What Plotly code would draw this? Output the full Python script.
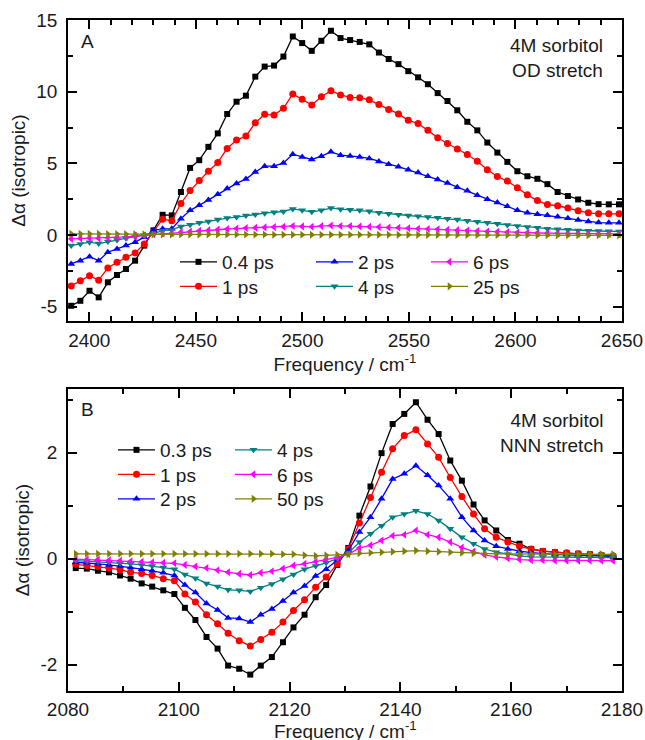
import plotly.graph_objects as go

# ---------------- Panel A data (OD stretch) ----------------
freq_A = [2391.5, 2395.8, 2400.1, 2404.4, 2408.7, 2413.0, 2417.2, 2421.5, 2425.8, 2430.1,
          2434.4, 2438.7, 2443.0, 2447.3, 2451.6, 2455.9, 2460.3, 2464.7, 2469.1, 2473.5,
          2477.9, 2482.3, 2486.7, 2491.1, 2495.5, 2499.9, 2504.4, 2508.9, 2513.4, 2517.9,
          2522.4, 2526.9, 2531.4, 2535.9, 2540.5, 2545.1, 2549.7, 2554.3, 2558.9, 2563.5,
          2568.1, 2572.7, 2577.4, 2582.1, 2586.8, 2591.5, 2596.2, 2600.9, 2605.6, 2610.3,
          2615.0, 2619.8, 2624.6, 2629.4, 2634.2, 2639.0, 2643.8, 2648.6]
A_04ps = [-4.94, -4.59, -3.89, -4.35, -3.30, -2.79, -2.37, -1.79, -0.74, 0.32,
          1.41, 1.37, 3.00, 4.68, 5.22, 6.15, 7.09, 8.44, 9.30, 9.72,
          11.05, 11.75, 11.82, 12.45, 13.85, 13.39, 12.85, 13.55, 14.25, 13.74,
          13.60, 13.47, 13.30, 12.73, 12.28, 11.92, 11.43, 11.00, 10.52, 9.90,
          9.35, 8.70, 7.90, 7.30, 6.45, 5.75, 5.10, 4.45, 4.10, 3.92,
          3.55, 3.00, 2.72, 2.48, 2.25, 2.15, 2.14, 2.14]
A_1ps = [-3.55, -3.20, -2.84, -3.15, -2.30, -1.90, -1.55, -1.25, -0.62, 0.20,
         1.10, 1.00, 2.20, 3.10, 3.80, 4.45, 5.06, 6.04, 6.62, 6.90,
         7.83, 8.42, 8.37, 8.84, 9.84, 9.47, 9.07, 9.65, 10.07, 9.77,
         9.60, 9.58, 9.43, 9.10, 8.75, 8.45, 8.00, 7.78, 7.30, 6.78,
         6.38, 6.00, 5.62, 5.15, 4.55, 4.08, 3.76, 3.30, 2.80, 2.40,
         2.12, 2.04, 1.88, 1.70, 1.55, 1.48, 1.48, 1.48]
A_2ps = [-2.02, -1.79, -1.51, -1.79, -1.20, -0.97, -0.74, -0.50, -0.15, 0.32,
         0.43, 0.43, 1.13, 1.72, 2.07, 2.45, 2.85, 3.25, 3.60, 3.90,
         4.40, 4.80, 4.80, 5.03, 5.64, 5.45, 5.27, 5.50, 5.80, 5.57,
         5.52, 5.45, 5.34, 5.12, 4.94, 4.77, 4.55, 4.36, 4.10, 3.87,
         3.62, 3.33, 3.08, 2.78, 2.50, 2.26, 2.00, 1.72, 1.55, 1.45,
         1.37, 1.27, 1.16, 1.05, 0.95, 0.87, 0.85, 0.85]
A_4ps = [-0.74, -0.62, -0.50, -0.60, -0.45, -0.35, -0.22, -0.12, -0.02, 0.10,
         0.30, 0.35, 0.60, 0.72, 0.85, 0.95, 1.08, 1.18, 1.25, 1.36,
         1.43, 1.52, 1.58, 1.64, 1.82, 1.72, 1.62, 1.72, 1.88, 1.80,
         1.76, 1.72, 1.65, 1.56, 1.48, 1.42, 1.36, 1.30, 1.25, 1.20,
         1.14, 1.08, 1.00, 0.92, 0.85, 0.78, 0.70, 0.62, 0.55, 0.50,
         0.44, 0.40, 0.36, 0.32, 0.30, 0.28, 0.26, 0.25]
A_6ps = [-0.27, -0.25, -0.22, -0.24, -0.20, -0.17, -0.13, -0.08, -0.03, 0.03,
         0.10, 0.13, 0.20, 0.25, 0.30, 0.34, 0.38, 0.42, 0.45, 0.48,
         0.50, 0.53, 0.55, 0.57, 0.63, 0.60, 0.58, 0.62, 0.66, 0.63,
         0.62, 0.60, 0.58, 0.55, 0.52, 0.50, 0.47, 0.44, 0.42, 0.40,
         0.37, 0.34, 0.31, 0.28, 0.25, 0.22, 0.20, 0.18, 0.16, 0.14,
         0.13, 0.12, 0.11, 0.10, 0.09, 0.08, 0.08, 0.08]
A_25ps = [0.08, 0.08, 0.08, 0.08, 0.07, 0.07, 0.06, 0.06, 0.05, 0.04,
          0.04, 0.03, 0.03, 0.03, 0.03, 0.03, 0.03, 0.03, 0.03, 0.03,
          0.03, 0.03, 0.02, 0.02, 0.02, 0.02, 0.02, 0.02, 0.02, 0.02,
          0.02, 0.02, 0.02, 0.02, 0.02, 0.01, 0.01, 0.01, 0.01, 0.01,
          0.01, 0.01, 0.00, 0.00, 0.00, 0.00, 0.00, 0.00, 0.00, -0.01,
          -0.01, -0.01, -0.01, -0.02, -0.02, -0.02, -0.02, -0.03]
labels_A = ["0.4 ps", "1 ps", "2 ps", "4 ps", "6 ps", "25 ps"]

# ---------------- Panel B data (NNN stretch) ----------------
freq_B = [2081.4, 2083.4, 2085.4, 2087.4, 2089.4, 2091.3, 2093.3, 2095.2, 2097.2, 2099.2,
          2101.1, 2103.0, 2105.0, 2107.0, 2108.9, 2110.9, 2112.9, 2114.8, 2116.8, 2118.8,
          2120.7, 2122.7, 2124.7, 2126.6, 2128.6, 2130.6, 2132.6, 2134.6, 2136.6, 2138.6,
          2140.7, 2142.8, 2144.9, 2146.9, 2149.0, 2151.1, 2153.2, 2155.2, 2157.3, 2159.4,
          2161.5, 2163.6, 2165.7, 2167.9, 2170.0, 2172.1, 2174.2, 2176.3, 2178.4]
B_03ps = [-0.18, -0.19, -0.23, -0.26, -0.32, -0.38, -0.47, -0.53, -0.60, -0.67,
          -0.93, -1.16, -1.48, -1.70, -2.02, -2.08, -2.19, -2.02, -1.86, -1.58,
          -1.30, -1.06, -0.73, -0.50, -0.12, 0.20, 0.81, 1.36, 1.99, 2.54,
          2.73, 2.95, 2.62, 2.35, 1.85, 1.47, 1.02, 0.72, 0.53, 0.35,
          0.28, 0.18, 0.14, 0.12, 0.10, 0.09, 0.08, 0.06, 0.04]
B_1ps = [-0.11, -0.13, -0.15, -0.18, -0.21, -0.26, -0.28, -0.32, -0.38, -0.42,
         -0.67, -0.82, -1.06, -1.23, -1.41, -1.55, -1.65, -1.53, -1.39, -1.20,
         -0.98, -0.78, -0.54, -0.35, -0.10, 0.18, 0.67, 1.15, 1.63, 2.07,
         2.32, 2.43, 2.16, 1.91, 1.53, 1.17, 0.84, 0.56, 0.40, 0.31,
         0.23, 0.18, 0.14, 0.12, 0.11, 0.09, 0.07, 0.06, 0.05]
B_2ps = [-0.07, -0.08, -0.10, -0.12, -0.14, -0.17, -0.20, -0.23, -0.27, -0.32,
         -0.50, -0.64, -0.85, -0.97, -1.12, -1.13, -1.20, -1.06, -0.95, -0.80,
         -0.64, -0.52, -0.33, -0.20, -0.02, 0.15, 0.50, 0.78, 1.13, 1.50,
         1.60, 1.75, 1.57, 1.38, 1.13, 0.78, 0.53, 0.34, 0.23, 0.18,
         0.14, 0.11, 0.09, 0.08, 0.07, 0.06, 0.05, 0.05, 0.04]
B_4ps = [-0.04, -0.05, -0.06, -0.07, -0.09, -0.10, -0.12, -0.14, -0.17, -0.20,
         -0.30, -0.37, -0.47, -0.53, -0.59, -0.60, -0.62, -0.55, -0.48, -0.39,
         -0.30, -0.20, -0.14, -0.08, 0.00, 0.10, 0.31, 0.47, 0.62, 0.78,
         0.84, 0.90, 0.84, 0.72, 0.56, 0.40, 0.28, 0.18, 0.12, 0.08,
         0.05, 0.03, 0.03, 0.02, 0.02, 0.02, 0.02, 0.02, 0.02]
B_6ps = [-0.01, -0.02, -0.02, -0.03, -0.04, -0.05, -0.06, -0.07, -0.08, -0.09,
         -0.12, -0.15, -0.18, -0.22, -0.26, -0.29, -0.31, -0.27, -0.24, -0.19,
         -0.13, -0.10, -0.06, -0.02, 0.02, 0.08, 0.20, 0.25, 0.34, 0.43,
         0.45, 0.53, 0.45, 0.40, 0.31, 0.21, 0.13, 0.07, 0.03, 0.00,
         -0.02, -0.03, -0.03, -0.04, -0.04, -0.04, -0.04, -0.04, -0.04]
B_50ps = [0.09, 0.09, 0.09, 0.09, 0.09, 0.09, 0.09, 0.09, 0.09, 0.09,
          0.09, 0.09, 0.09, 0.09, 0.09, 0.09, 0.09, 0.09, 0.09, 0.08,
          0.08, 0.06, 0.05, 0.06, 0.07, 0.08, 0.10, 0.11, 0.12, 0.13,
          0.14, 0.15, 0.14, 0.13, 0.12, 0.11, 0.10, 0.09, 0.09, 0.09,
          0.09, 0.09, 0.08, 0.08, 0.08, 0.08, 0.08, 0.08, 0.08]
labels_B = ["0.3 ps", "1 ps", "2 ps", "4 ps", "6 ps", "50 ps"]

# ticks
xticks_A = [2400, 2450, 2500, 2550, 2600, 2650]
yticks_A = [-5, 0, 5, 10, 15]
yticklabels_A = ["-5", "0", "5", "10", "15"]
xticks_B = [2080, 2100, 2120, 2140, 2160, 2180]
yticks_B = [-2, 0, 2]
yticklabels_B = ["-2", "0", "2"]

series_A = [A_04ps, A_1ps, A_2ps, A_4ps, A_6ps, A_25ps]
series_B = [B_03ps, B_1ps, B_2ps, B_4ps, B_6ps, B_50ps]
for s in series_A:
    assert len(s) == len(freq_A), len(s)
for s in series_B:
    assert len(s) == len(freq_B), len(s)

# ---------------- styles ----------------
colors = ["#000000", "#FF0000", "#0000FF", "#008080", "#FF00FF", "#808000"]
symbols = ["square", "circle", "triangle-up", "triangle-down", "triangle-left", "triangle-right"]
msizes = [6, 7, 7, 7, 7, 7]
FONT = "Liberation Sans, Arial, sans-serif"
FS = 19
TXT = "#1a1a1a"
W, H = 645, 740
ML, MR, MT, MB = 68, 23, 20, 49
PW, PH = W - ML - MR, H - MT - MB


def px2x(px):
    return (px - ML) / PW


def py2y(py):
    return (H - MB - py) / PH


# legend layout (pixel positions of each entry: text left edge, row centre)
legpos_A = [(222, 262), (222, 286.5), (358, 262), (358, 286.5), (473, 262), (473, 286.5)]
legpos_B = [(160, 450), (160, 474.5), (160, 499), (277, 450), (277, 474.5), (277, 499)]
ITEMW = 37

fig = go.Figure()
for i in range(6):
    fig.add_trace(go.Scatter(
        x=freq_A, y=series_A[i], mode="lines+markers", name=labels_A[i],
        line=dict(color=colors[i], width=1.3),
        marker=dict(symbol=symbols[i], size=msizes[i], color=colors[i]),
        xaxis="x", yaxis="y", legend="legend" if i == 0 else "legend%d" % (i + 1)))
for i in range(6):
    fig.add_trace(go.Scatter(
        x=freq_B, y=series_B[i], mode="lines+markers", name=labels_B[i],
        line=dict(color=colors[i], width=1.3),
        marker=dict(symbol=symbols[i], size=msizes[i], color=colors[i]),
        xaxis="x2", yaxis="y2", legend="legend%d" % (i + 7)))

axis_common = dict(
    showline=True, linecolor="black", linewidth=1.5, mirror="ticks",
    ticks="inside", ticklen=9, tickwidth=1.5, tickcolor="black",
    showgrid=False, zeroline=False, automargin=False,
    tickfont=dict(family=FONT, size=FS, color=TXT),
)
title_font = dict(family=FONT, size=FS, color=TXT)
minor_common = dict(ticks="inside", ticklen=5, tickwidth=1.5, tickcolor="black", showgrid=False)

domA = [py2y(321), 1.0]
domB = [0.0, py2y(389)]

fig.update_layout(
    width=W, height=H, margin=dict(l=ML, r=MR, t=MT, b=MB),
    paper_bgcolor="white", plot_bgcolor="white",
    font=dict(family=FONT, size=FS, color=TXT),
    xaxis=dict(axis_common, domain=[0, 1], anchor="y", range=[2390, 2650],
               tickmode="array", tickvals=xticks_A, ticklabelstandoff=1,
               minor=dict(minor_common, dtick=10, tick0=2400),
               title=dict(text="Frequency / cm<sup>-1</sup>", font=title_font, standoff=6)),
    yaxis=dict(axis_common, domain=domA, anchor="x", range=[-6, 15],
               tickmode="array", tickvals=yticks_A, ticktext=yticklabels_A, ticklabelstandoff=5,
               minor=dict(minor_common, dtick=2.5, tick0=0),
               title=dict(text="Δα (isotropic)", font=title_font, standoff=6)),
    xaxis2=dict(axis_common, domain=[0, 1], anchor="y2", range=[2080, 2180],
                tickmode="array", tickvals=xticks_B, ticklabelstandoff=0,
                minor=dict(minor_common, dtick=10, tick0=2080)),
    yaxis2=dict(axis_common, domain=domB, anchor="x2", range=[-2.5, 3.2],
                tickmode="array", tickvals=yticks_B, ticktext=yticklabels_B, ticklabelstandoff=5,
                minor=dict(minor_common, dtick=1, tick0=0),
                title=dict(text="Δα (isotropic)", font=title_font, standoff=6)),
    showlegend=True,
)

leg_common = dict(bgcolor="rgba(0,0,0,0)", borderwidth=0, font=dict(family=FONT, size=FS, color=TXT),
                  orientation="v", xanchor="left", yanchor="top", tracegroupgap=0, itemwidth=ITEMW)
for k, (tx, cy) in enumerate(legpos_A + legpos_B):
    name = "legend" if k == 0 else "legend%d" % (k + 1)
    fig.update_layout({name: dict(leg_common, x=px2x(tx - ITEMW - 10), y=py2y(cy - 19))})

ann_font = dict(family=FONT, size=FS, color=TXT)
fig.add_annotation(text="A", xref="paper", yref="paper", x=px2x(79), y=py2y(29),
                   xanchor="left", yanchor="top", showarrow=False, font=ann_font)
fig.add_annotation(text="B", xref="paper", yref="paper", x=px2x(79), y=py2y(397),
                   xanchor="left", yanchor="top", showarrow=False, font=ann_font)
fig.add_annotation(text="4M sorbitol<br>OD stretch", xref="paper", yref="paper",
                   x=px2x(605), y=py2y(33), xanchor="right", yanchor="top", align="right",
                   showarrow=False, font=ann_font)
fig.add_annotation(text="4M sorbitol<br>NNN stretch", xref="paper", yref="paper",
                   x=px2x(605), y=py2y(408), xanchor="right", yanchor="top", align="right",
                   showarrow=False, font=ann_font)
# x-axis title of panel B (sits at the very bottom edge, as in the original figure)
fig.add_annotation(text="Frequency / cm<sup>-1</sup>", xref="paper", yref="paper",
                   x=0.5, y=py2y(729.5), xanchor="center", yanchor="middle",
                   showarrow=False, font=title_font)

fig.write_html("out.html", config={"displayModeBar": False},
               post_script="document.body.style.margin='0px';")
